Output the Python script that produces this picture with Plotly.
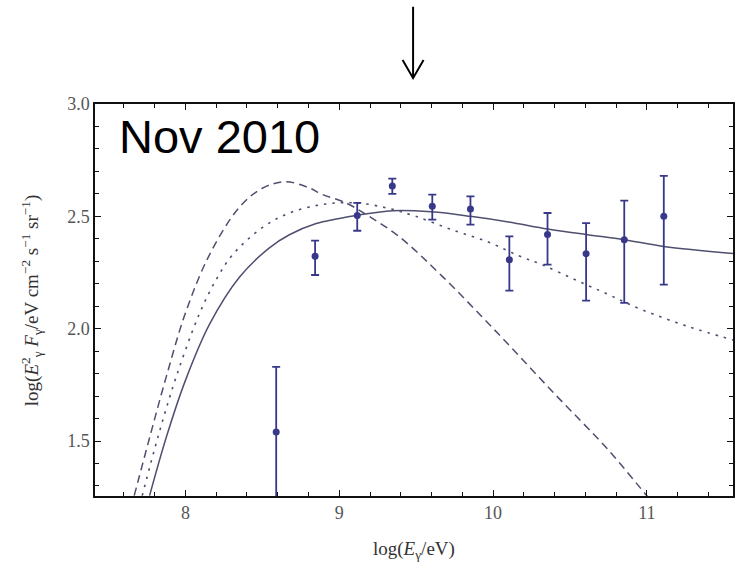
import plotly.graph_objects as go

# ---- data ----
pt_x = [8.59, 8.843, 9.117, 9.345, 9.605, 9.853, 10.106, 10.354, 10.605, 10.853, 11.11]
pt_y = [1.54, 2.322, 2.504, 2.635, 2.545, 2.533, 2.307, 2.419, 2.334, 2.396, 2.50]
pt_hi = [1.83, 2.392, 2.56, 2.668, 2.597, 2.589, 2.411, 2.515, 2.47, 2.57, 2.68]
pt_lo = [0.90, 2.239, 2.436, 2.60, 2.485, 2.463, 2.169, 2.285, 2.125, 2.115, 2.196]

solid_x = [7.767, 7.877, 8.0, 8.157, 8.352, 8.546, 8.676, 8.85, 9.117, 9.35, 9.6, 9.853,
           10.1, 10.354, 10.605, 10.853, 11.11, 11.56]
solid_y = [1.257, 1.52, 1.77, 2.02, 2.23, 2.36, 2.418, 2.468, 2.505, 2.525, 2.52, 2.50,
           2.475, 2.444, 2.419, 2.396, 2.366, 2.335]

dash_x = [7.667, 7.769, 7.877, 8.0, 8.157, 8.35, 8.5, 8.65, 8.8, 8.892, 9.043, 9.194,
          9.389, 9.67, 10.037, 10.4, 10.75, 11.0, 11.05]
dash_y = [1.257, 1.52, 1.79, 2.07, 2.33, 2.54, 2.625, 2.654, 2.628, 2.597, 2.56, 2.50,
          2.41, 2.233, 1.975, 1.71, 1.46, 1.257, 1.22]

dot_x = [7.719, 7.822, 7.942, 8.093, 8.201, 8.308, 8.5, 8.676, 8.892, 9.108, 9.324, 9.497,
         9.734, 9.972, 10.166, 10.318, 10.534, 10.75, 10.966, 11.268, 11.56]
dot_y = [1.257, 1.52, 1.79, 2.07, 2.22, 2.33, 2.45, 2.515, 2.553, 2.56, 2.535, 2.50,
         2.44, 2.385, 2.325, 2.285, 2.218, 2.152, 2.085, 2.01, 1.95]

x_ticks = [8, 9, 10, 11]
y_ticks = [1.5, 2.0, 2.5, 3.0]
arrow_x = 9.48

curve_col = "#4f4f70"
pt_col = "#38388a"

fig = go.Figure()
fig.add_trace(go.Scatter(x=dash_x, y=dash_y, mode="lines", line=dict(color=curve_col, width=1.5, dash="8px,5px", shape="spline")))
fig.add_trace(go.Scatter(x=dot_x, y=dot_y, mode="lines", line=dict(color=curve_col, width=1.6, dash="2.5px,6px", shape="spline")))
fig.add_trace(go.Scatter(x=solid_x, y=solid_y, mode="lines", line=dict(color=curve_col, width=1.5, shape="spline")))
fig.add_trace(go.Scatter(
    x=pt_x, y=pt_y, mode="markers",
    marker=dict(color=pt_col, size=7),
    error_y=dict(type="data", symmetric=False,
                 array=[h - y for h, y in zip(pt_hi, pt_y)],
                 arrayminus=[y - l for l, y in zip(pt_lo, pt_y)],
                 color=pt_col, thickness=1.8, width=4),
))

axis_common = dict(
    showgrid=False, zeroline=False, showline=True, linecolor="#111", linewidth=1.5,
    mirror="allticks", ticks="inside", ticklen=6, tickwidth=1.3, tickcolor="#111",
    tickfont=dict(family="Liberation Serif", size=18, color="#555"),
    minor=dict(ticks="inside", ticklen=4, tickwidth=1.1, tickcolor="#111"),
)
fig.update_xaxes(range=[7.412, 11.56], tickvals=x_ticks, ticktext=[str(v) for v in x_ticks],
                 minor_dtick=0.2, minor_tick0=0, **axis_common)
fig.update_yaxes(range=[1.2554, 3.0], tickvals=y_ticks, ticktext=[f"{v:.1f}" for v in y_ticks],
                 minor_dtick=0.1, minor_tick0=0, **axis_common)

fig.add_annotation(text="Nov 2010", xref="paper", yref="paper", x=0.034, y=0.916,
                   xanchor="left", yanchor="middle", showarrow=False,
                   font=dict(family="Liberation Sans", size=47, color="#000"))
fig.add_annotation(text="log(<i>E</i><sub>γ</sub>/eV)", xref="paper", yref="paper",
                   x=0.5, y=-0.138, xanchor="center", yanchor="middle", showarrow=False,
                   font=dict(family="Liberation Serif", size=19, color="#333"))
fig.add_annotation(text="log(<i>E</i><sup>2</sup><sub>γ</sub> <i>F</i><sub>γ</sub>/eV cm<sup>−2</sup> s<sup>−1</sup> sr<sup>−1</sup>)",
                   xref="paper", yref="paper", x=-0.1, y=0.5, textangle=-90,
                   xanchor="center", yanchor="middle", showarrow=False,
                   font=dict(family="Liberation Serif", size=19, color="#333"))

# arrow above the plot
fig.add_shape(type="line", xref="x", yref="paper", x0=arrow_x, x1=arrow_x, y0=1.248, y1=1.068,
              line=dict(color="#000", width=2))
fig.add_shape(type="path", xref="x", yref="paper",
              path=f"M {arrow_x-0.068},1.112 L {arrow_x},1.066 L {arrow_x+0.068},1.112",
              line=dict(color="#000", width=2))

fig.update_layout(
    width=735, height=567, showlegend=False,
    margin=dict(l=95, r=0, t=104, b=71),
    paper_bgcolor="white", plot_bgcolor="white",
)
fig.write_html("out.html")
